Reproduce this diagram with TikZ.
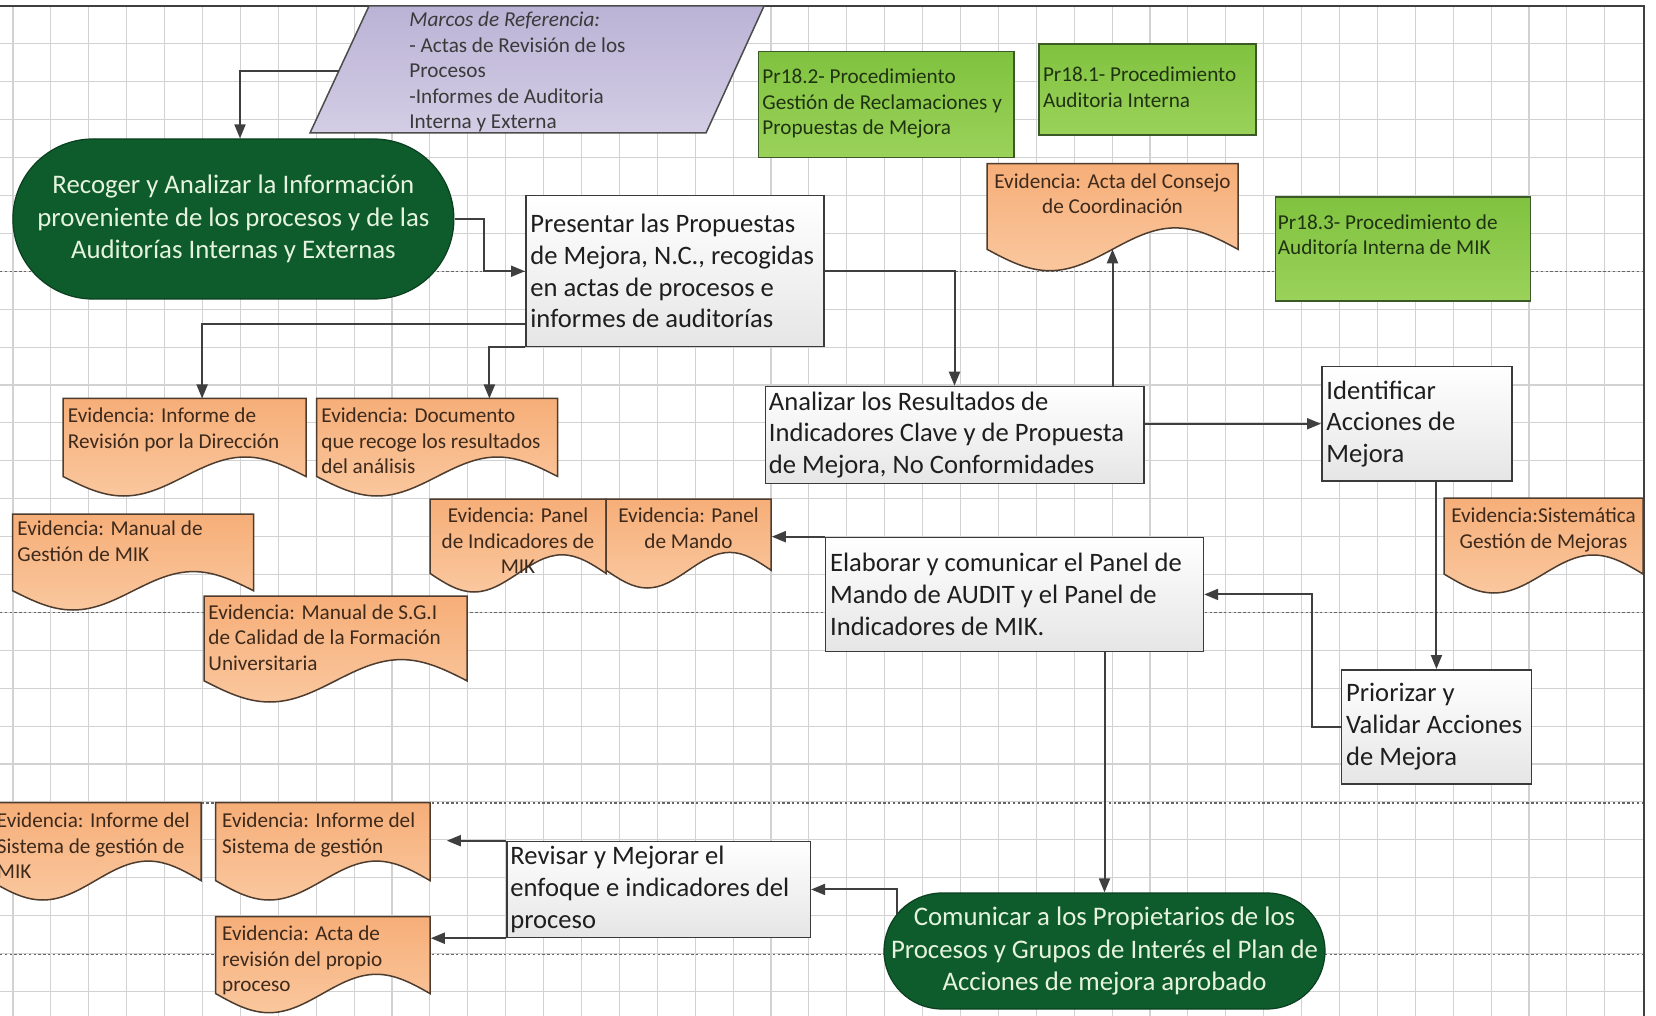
\documentclass[tikz,border=0pt]{standalone}
\usepackage{fontspec}
\setmainfont{Carlito}
\usetikzlibrary{arrows.meta,calc}

\definecolor{gridc}{HTML}{D2D2D2}
\definecolor{linec}{HTML}{3F3F3F}
\definecolor{termg}{HTML}{0E5B2C}
\definecolor{termtxt}{HTML}{E6F4DF}
\definecolor{limeA}{HTML}{80C23F}
\definecolor{limeB}{HTML}{9BD25A}
\definecolor{limeEdge}{HTML}{3C5A28}
\definecolor{limeTxt}{HTML}{1F3312}
\definecolor{docA}{HTML}{F6AE78}
\definecolor{docB}{HTML}{FAC79E}
\definecolor{docEdge}{HTML}{4E3C2E}
\definecolor{docTxt}{HTML}{3E2A1C}
\definecolor{lavA}{HTML}{BBB3D5}
\definecolor{lavB}{HTML}{D3CDE5}
\definecolor{lavTxt}{HTML}{3A3A3A}
\definecolor{boxEdge}{HTML}{3A3A3A}
\definecolor{boxTxt}{HTML}{1E1E1E}

% one drawing unit = 0.5pt
\newcommand\pxu[1]{#1*0.5pt}

\tikzset{
  mainfont/.style={font=\fontsize{13.3}{15.85}\selectfont},
  smallfont/.style={font=\fontsize{10.6}{12.75}\selectfont},
  gridline/.style={draw=gridc, line width=0.55pt},
  lanesep/.style={draw=black!60, line width=0.6pt, dash pattern=on 1.2pt off 1.2pt},
  procbox/.style={draw=boxEdge, line width=0.75pt, top color=white, bottom color=black!10, inner sep=0pt, anchor=north west},
  proctext/.style={mainfont, text=boxTxt, align=left, inner sep=0pt, anchor=west},
  terminal/.style={fill=termg, draw=termg!70!black, line width=0.6pt, text=termtxt, align=center, inner sep=0pt, font=\fontsize{13.4}{16.25}\selectfont},
  refbox/.style={draw=limeEdge, line width=0.8pt, top color=limeA, bottom color=limeB, inner sep=0pt, anchor=north west},
  reftext/.style={smallfont, text=limeTxt, align=left, inner sep=0pt, anchor=north west},
  docshape/.style={draw=docEdge, line width=0.75pt, top color=docA, bottom color=docB},
  doctext/.style={smallfont, text=docTxt, inner sep=0pt},
  flow/.style={draw=linec, line width=1pt, -{Triangle[length=7pt,width=5.5pt]}},
}

% evidence document: #1 name, #2 #3 top-left corner, #4 width, #5 height
\newcommand\evshape[5]{%
  \path[docshape] (#2,#3) -- ++(#4,0) -- ++(0,{0.8*#5})
     sin ++({-0.25*#4},{-0.2*#5}) cos ++({-0.25*#4},{0.2*#5})
     sin ++({-0.25*#4},{0.2*#5}) cos ++({-0.25*#4},{-0.2*#5}) -- cycle;
  \node[inner sep=0pt, minimum width={#4*0.5pt}, minimum height={#5*0.5pt}, anchor=north west] (#1) at (#2,#3) {};
  \coordinate (#1-mid) at ({#2+0.5*#4},{#3+0.8*#5});
}

\begin{document}
\begin{tikzpicture}[x=0.5pt, y=-0.5pt]
\clip (0,0) rectangle (1656,1016);
\fill[white] (0,0) rectangle (1656,1016);

% background grid
\foreach \gx in {0,...,42} \draw[gridline] ({13+37.9*\gx},6) -- ({13+37.9*\gx},1016);
\foreach \gy in {1,...,26} \draw[gridline] (0,{6+37.9*\gy}) -- (1644,{6+37.9*\gy});

% lane separators and frame
\foreach \sy in {271.5,612.5,803,954.5} \draw[lanesep] (0,\sy) -- (1644,\sy);
\draw[draw=black!75, line width=1.1pt] (0,6) -- (1644,6) -- (1644,1016);

% reference frameworks
\path[draw=black!70, line width=0.75pt, top color=lavA, bottom color=lavB]
  (369,6) -- (764,6) -- (706,133) -- (310,133) -- cycle;
\coordinate (marco-in) at (338.8,71);
\node[smallfont, text=lavTxt, align=left, inner sep=0pt, anchor=north west] (marco-t) at (409,11.5)
  {\itshape Marcos de Referencia:\\- Actas de Revisión de los\\Procesos\\-Informes de Auditoria\\Interna y Externa};

% procedures
\node[refbox, minimum width=\pxu{255.5}, minimum height=\pxu{106}] (pr182) at (757.5,50.7) {};
\node[reftext] (pr182-t) at (762,68.5) {Pr18.2- Procedimiento\\Gestión de Reclamaciones y\\Propuestas de Mejora};
\node[refbox, minimum width=\pxu{217}, minimum height=\pxu{90.7}] (pr181) at (1038,43.3) {};
\node[reftext] (pr181-t) at (1042.6,66.5) {Pr18.1- Procedimiento\\Auditoria Interna};
\node[refbox, minimum width=\pxu{255.2}, minimum height=\pxu{104}] (pr183) at (1274.5,196) {};
\node[reftext] (pr183-t) at (1277.5,214) {Pr18.3- Procedimiento de\\Auditoría Interna de MIK};

% evidences
\evshape{consejo}{987}{163.7}{251}{107}
\node[doctext, align=center, anchor=north] (consejo-t) at (1112.5,173) {Evidencia: Acta del Consejo\\de Coordinación};
\evshape{dinf}{63}{398.5}{243}{97.5}
\node[doctext, align=left, anchor=north west] (dinf-t) at (67.6,407.5) {Evidencia: Informe de\\Revisión por la Dirección};
\evshape{ddoc}{316.7}{398.5}{241}{97.5}
\node[doctext, align=left, anchor=north west] (ddoc-t) at (321,407.5) {Evidencia: Documento\\que recoge los resultados\\del análisis};
\evshape{dman}{12.7}{514}{241}{96}
\node[doctext, align=left, anchor=north west] (dman-t) at (17,520.5) {Evidencia: Manual de\\Gestión de MIK};
\evshape{dsgi}{204}{596}{263}{106}
\node[doctext, align=left, anchor=north west] (dsgi-t) at (208,604) {Evidencia: Manual de S.G.I\\de Calidad de la Formación\\Universitaria};
\evshape{dpind}{430}{499}{176}{93}
\node[doctext, align=center, anchor=north] (dpind-t) at (518,507.5) {Evidencia: Panel\\de Indicadores de\\MIK};
\evshape{dmando}{606}{499}{165}{89}
\node[doctext, align=center, anchor=north] (dmando-t) at (688.5,507.5) {Evidencia: Panel\\de Mando};
\evshape{dsis}{1444}{498}{199}{95}
\node[doctext, align=center, anchor=north] (dsis-t) at (1543.5,507.5) {Evidencia:Sistemática\\Gestión de Mejoras};
\evshape{dsist1}{-10}{802.7}{211}{97.3}
\node[doctext, align=left, anchor=north west] (dsist1-t) at (-3.5,812.5) {Evidencia: Informe del\\Sistema de gestión de\\MIK};
\evshape{dsist2}{215.5}{802.7}{214.5}{97.3}
\node[doctext, align=left, anchor=north west] (dsist2-t) at (221.8,812.5) {Evidencia: Informe del\\Sistema de gestión};
\evshape{dacta}{215.5}{916.7}{214.5}{96}
\node[doctext, align=left, anchor=north west] (dacta-t) at (221.8,925.5) {Evidencia: Acta de\\revisión del propio\\proceso};

% terminals
\node[terminal, minimum width=\pxu{441}, minimum height=\pxu{160}, rounded corners=40pt] (t1) at (233.4,219)
  {Recoger y Analizar la Información\\proveniente de los procesos y de las\\Auditorías Internas y Externas};
\node[terminal, minimum width=\pxu{441}, minimum height=\pxu{116}, rounded corners=29pt] (t2) at (1104.5,951)
  {Comunicar a los Propietarios de los\\Procesos y Grupos de Interés el Plan de\\Acciones de mejora aprobado};

% process steps
\node[procbox, minimum width=\pxu{298}, minimum height=\pxu{151}] (pres) at (525,195) {};
\node[proctext] (pres-t) at ($(pres.west)+(5,0)$) {Presentar las Propuestas\\de Mejora, N.C., recogidas\\en actas de procesos e\\informes de auditorías};
\node[procbox, minimum width=\pxu{378.5}, minimum height=\pxu{97}] (anal) at (764.5,385.7) {};
\node[proctext] (anal-t) at ($(anal.west)+(4,0)$) {Analizar los Resultados de\\Indicadores Clave y de Propuesta\\de Mejora, No Conformidades};
\node[procbox, minimum width=\pxu{190}, minimum height=\pxu{114}] (ident) at (1321,366) {};
\node[proctext] (ident-t) at ($(ident.west)+(5,0)$) {Identificar\\Acciones de\\Mejora};
\node[procbox, minimum width=\pxu{378}, minimum height=\pxu{114}] (elab) at (824.7,536.7) {};
\node[proctext] (elab-t) at ($(elab.west)+(5,0)$) {Elaborar y comunicar el Panel de\\Mando de AUDIT y el Panel de\\Indicadores de MIK.};
\node[procbox, minimum width=\pxu{190}, minimum height=\pxu{114}] (prio) at (1340.7,669) {};
\node[proctext] (prio-t) at ($(prio.west)+(5,0)$) {Priorizar y\\Validar Acciones\\de Mejora};
\node[procbox, minimum width=\pxu{303.6}, minimum height=\pxu{96}] (rev) at (506,840.7) {};
\node[proctext] (rev-t) at ($(rev.west)+(4,0)$) {Revisar y Mejorar el\\enfoque e indicadores del\\proceso};

% connectors
\draw[flow] (marco-in) -| ($(t1.north)+(6.6,0)$);
\draw[flow] (t1.east) -- ++(29,0) |- (pres.west);
\draw[flow] ($(pres.south west)+(0,-23.3)$) -| ($(dinf.north)+(17.2,0)$);
\draw[flow] (pres.south west) -| ($(ddoc.north)+(51.8,0)$);
\draw[flow] (pres.east) -| (anal.north);
\draw[flow] (anal.north -| consejo-mid) -- (consejo-mid);
\draw[flow] (anal.east |- ident.west) -- (ident.west);
\draw[flow] (ident.south -| prio.north) -- (prio.north);
\draw[flow] (prio.west) -- ++(-29,0) |- (elab.east);
\draw[flow] (elab.north west) -- (elab.north west -| dmando.east);
\draw[flow] (elab.south -| t2.north) -- (t2.north);
\draw[flow] ($(t2.west)+(13.7,-37.4)$) |- (rev.east);
\draw[flow, shorten >=8pt] (rev.north west) -- (rev.north west -| dsist2.east);
\draw[flow] (rev.south west) -- (rev.south west -| dacta.east);
\end{tikzpicture}
\end{document}
